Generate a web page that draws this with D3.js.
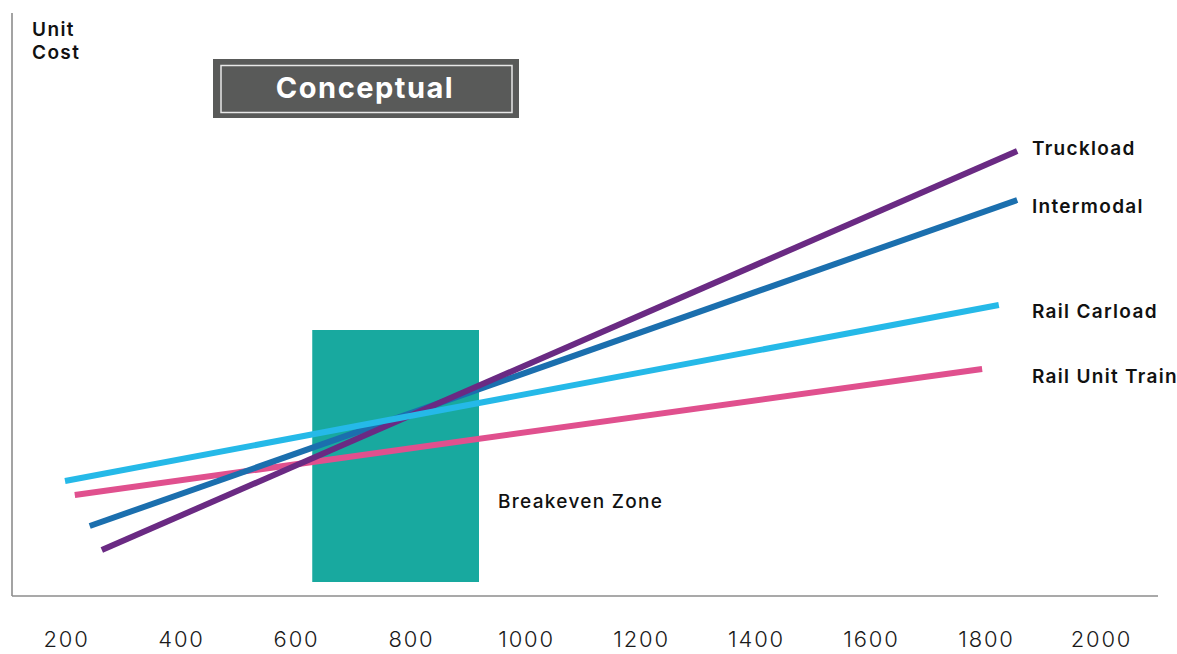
<!DOCTYPE html>
<html>
<head>
<meta charset="utf-8">
<script src="https://cdn.jsdelivr.net/npm/d3@7/dist/d3.min.js"></script>
<style>
  html, body { margin: 0; padding: 0; background: #ffffff; }
  svg { display: block; }
</style>
</head>
<body>
<div id="chart"></div>
<script>
// ---- data ----
const series = ["Truckload", "Intermodal", "Rail Carload", "Rail Unit Train"];
const volumeStart = [264, 243, 200, 217];
const volumeEnd = [1856, 1856, 1824, 1795];
const costStart = [9.2, 14, 23, 20.2];
const costEnd = [89, 79.2, 58.2, 45.4];
const labelCost = [89.6, 78, 57, 44];
const seriesColors = ["#6a2a83", "#1b6fae", "#25b9e8", "#e0508e"];
const xTicks = [200, 400, 600, 800, 1000, 1200, 1400, 1600, 1800, 2000];
const zoneVolume = [630, 920];
const zoneCost = [2.8, 53.2];
const zoneLabel = "Breakeven Zone";
const yTitle = ["Unit", "Cost"];
const badge = "Conceptual";

// ---- layout ----
const W = 1177, H = 654;
const FONT = "Inter, 'Open Sans', 'DejaVu Sans', sans-serif";
const svg = d3.select("#chart").append("svg").attr("width", W).attr("height", H);

const x = d3.scaleLinear().domain([200, 2000]).range([65, 1100]);
const y = d3.scaleLinear().domain([0, 100]).range([596, 96]);

// axes frame
const axisX0 = 12, axisY0 = 596;
svg.append("line").attr("x1", axisX0).attr("x2", axisX0).attr("y1", 13).attr("y2", axisY0)
  .attr("stroke", "#8c8c8c").attr("stroke-width", 1.6);
svg.append("line").attr("x1", axisX0).attr("x2", 1158).attr("y1", axisY0).attr("y2", axisY0)
  .attr("stroke", "#8c8c8c").attr("stroke-width", 1.6);

// x tick labels via d3 axis
const xAxis = d3.axisBottom(x).tickValues(xTicks).tickSize(0).tickPadding(0).tickFormat(d3.format("d"));
const gx = svg.append("g").attr("transform", "translate(0,647)").call(xAxis);
gx.select(".domain").remove();
gx.selectAll("text")
  .attr("dy", "0")
  .attr("dx", "1px")
  .style("font-family", FONT)
  .style("font-size", "22px")
  .style("font-weight", 300)
  .style("letter-spacing", "1.8px")
  .attr("fill", "#1a1a1a");

// y title
const yt = svg.append("text").attr("x", 32).attr("y", 36)
  .style("font-family", FONT).style("font-size", "19px").style("font-weight", 600)
  .style("letter-spacing", "1.4px").attr("fill", "#111");
yTitle.forEach((t, i) => yt.append("tspan").attr("x", 32).attr("dy", i === 0 ? 0 : 23).text(t));

// badge
const bg = svg.append("g");
bg.append("rect").attr("x", 213).attr("y", 59).attr("width", 306).attr("height", 59).attr("fill", "#595a59");
bg.append("rect").attr("x", 221).attr("y", 65.5).attr("width", 291).attr("height", 47)
  .attr("fill", "none").attr("stroke", "#e8e8e8").attr("stroke-width", 1.5);
bg.append("text").attr("x", 365).attr("y", 98).attr("text-anchor", "middle")
  .style("font-family", FONT).style("font-size", "29px").style("font-weight", 700)
  .style("letter-spacing", "1.5px")
  .attr("fill", "#ffffff").text(badge);

// breakeven zone
svg.append("rect")
  .attr("x", x(zoneVolume[0])).attr("width", x(zoneVolume[1]) - x(zoneVolume[0]))
  .attr("y", y(zoneCost[1])).attr("height", y(zoneCost[0]) - y(zoneCost[1]))
  .attr("fill", "#18a99f");
svg.append("text").attr("x", 498).attr("y", 508)
  .style("font-family", FONT).style("font-size", "19px").style("font-weight", 500)
  .style("letter-spacing", "1.3px")
  .attr("fill", "#111").text(zoneLabel);

// lines
const rows = series.map((s, i) => ({
  name: s, color: seriesColors[i],
  pts: [[volumeStart[i], costStart[i]], [volumeEnd[i], costEnd[i]]],
  labelCost: labelCost[i]
}));
const lineGen = d3.line().x(d => x(d[0])).y(d => y(d[1]));
const order = [3, 1, 0, 2];
svg.append("g").selectAll("path").data(order.map(i => rows[i])).join("path")
  .attr("d", d => lineGen(d.pts))
  .attr("fill", "none").attr("stroke", d => d.color).attr("stroke-width", 6);

svg.append("g").selectAll("text").data(rows).join("text")
  .attr("x", 1032).attr("y", d => y(d.labelCost)).attr("dy", "0.35em")
  .style("font-family", FONT).style("font-size", "19px").style("font-weight", 600)
  .style("letter-spacing", "1.3px")
  .attr("fill", "#111").text(d => d.name);
</script>
</body>
</html>
